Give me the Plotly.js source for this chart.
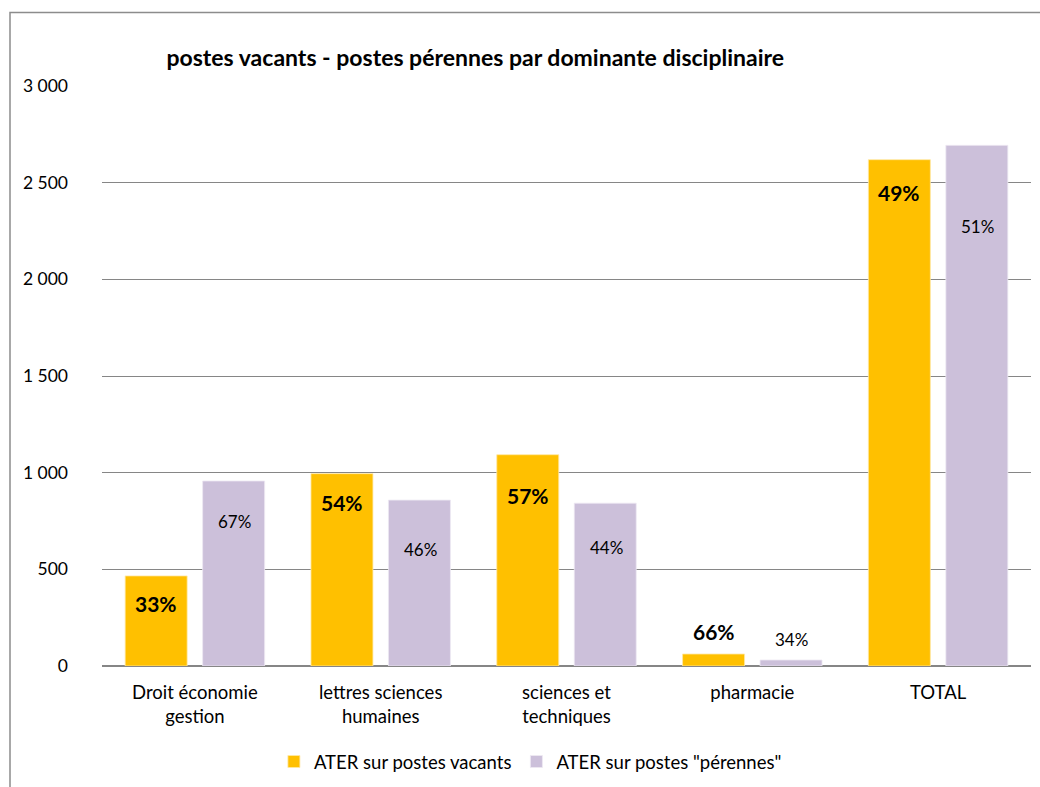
<!DOCTYPE html>
<html>
<head>
<meta charset="utf-8">
<script src="https://cdn.plot.ly/plotly-3.0.1.min.js"></script>
<style>html,body{margin:0;padding:0;background:#fff;}#chart{width:1040px;height:787px;}</style>
</head>
<body>
<div id="chart"></div>
<script>
const categories = ["Droit économie<br>gestion", "lettres sciences<br>humaines", "sciences et<br>techniques", "pharmacie", "TOTAL"];
const vacants = [466, 995, 1093, 62, 2619];
const perennes = [957, 858, 842, 31, 2693];
const vacantsPct = ["33%", "54%", "57%", "66%", "49%"];
const perennesPct = ["67%", "46%", "44%", "34%", "51%"];
const seriesNames = ["ATER sur postes vacants", "ATER sur postes \"pérennes\""];

// label offsets in px from bar top to label centre (style only)
const vacOffset = [28, 29, 41, -23, 33];
const perOffset = [41, 49, 44, -21, 81];

const FONT = "Lato, 'Open Sans', sans-serif";

const traces = [
  {type: "bar", name: seriesNames[0], x: categories, y: vacants,
   marker: {color: "#FFC000", line: {color: "#FFE9A6", width: 0.8}}, hoverinfo: "skip"},
  {type: "bar", name: seriesNames[1], x: categories, y: perennes,
   marker: {color: "#CCC0DA", line: {color: "#EEE9F3", width: 0.8}}, hoverinfo: "skip"}
];

const annotations = [];
categories.forEach((c, i) => {
  annotations.push({x: c, y: vacants[i], xref: "x", yref: "y", text: vacantsPct[i],
    showarrow: false, xshift: -38.75, yshift: -vacOffset[i], yanchor: "middle",
    font: {family: FONT, size: 21, color: "#000", weight: "bold"}});
  annotations.push({x: c, y: perennes[i], xref: "x", yref: "y", text: perennesPct[i],
    showarrow: false, xshift: 39.5, yshift: -perOffset[i], yanchor: "middle",
    font: {family: FONT, size: 17, color: "#000"}});
});

const layout = {
  width: 1040, height: 787,
  margin: {l: 102, r: 9, t: 86, b: 121, pad: 0},
  paper_bgcolor: "#fff", plot_bgcolor: "#fff",
  separators: ", ",
  font: {family: FONT, size: 17, color: "#000"},
  title: {text: "<b>postes vacants - postes pérennes par dominante disciplinaire</b>",
    x: 0.457, xanchor: "center", xref: "container", y: 1 - 58/787, yref: "container", yanchor: "middle",
    font: {family: FONT, size: 23, color: "#000"}},
  barmode: "group", bargap: 0.166, bargroupgap: 0.2,
  showlegend: true,
  legend: {orientation: "h", xref: "container", yref: "container", x: 0.51, xanchor: "center",
    y: (787 - 762) / 787, yanchor: "middle",
    font: {family: FONT, size: 18.5, color: "#000"}, itemwidth: 30, traceorder: "normal"},
  xaxis: {type: "category", showgrid: false, zeroline: false, showline: false, automargin: false,
    ticks: "", tickfont: {family: FONT, size: 18.5, color: "#000"}, ticklabelstandoff: 13, fixedrange: true},
  yaxis: {range: [0, 3000], tickvals: [0, 500, 1000, 1500, 2000, 2500, 3000], tickformat: ",d",
    separatethousands: true, automargin: false,
    showgrid: true, gridcolor: "#868686", gridwidth: 1, zeroline: true, zerolinecolor: "#868686", zerolinewidth: 2,
    showline: false, ticks: "", ticklabelstandoff: 33,
    tickfont: {family: FONT, size: 17.5, color: "#000"}, fixedrange: true},
  annotations: annotations,
  shapes: [{type: "rect", xref: "paper", yref: "paper",
    x0: (10 - 102) / 929, x1: (1060 - 102) / 929, y0: (666 - 820) / 580, y1: (666 - 12.5) / 580,
    line: {color: "#8c8c8c", width: 1.5}, fillcolor: "rgba(0,0,0,0)", layer: "below"}]
};

Plotly.newPlot("chart", traces, layout, {displayModeBar: false, staticPlot: true});
</script>
</body>
</html>
